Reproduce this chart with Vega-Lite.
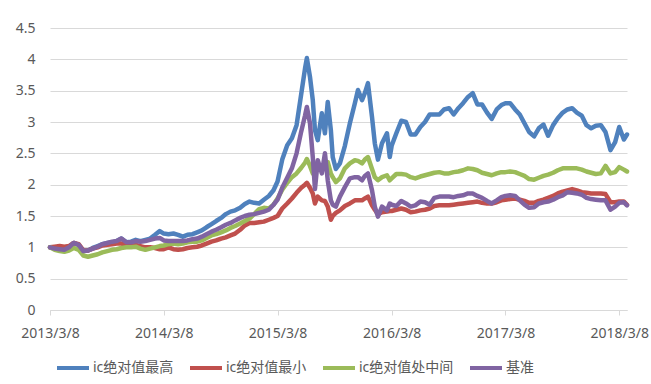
{
  "$schema": "https://vega.github.io/schema/vega-lite/v6.json",
  "width": 577,
  "height": 282,
  "autosize": {"type": "none"},
  "padding": {"left": 50, "top": 28, "right": 24, "bottom": 74},
  "background": "white",
  "config": {"view": {"stroke": null}, "font": "Noto Sans, Noto Sans CJK SC"},
  "data": {"values": [
    {"date":"2013-03-08","ic绝对值最高":1.00,"ic绝对值最小":1.00,"ic绝对值处中间":1.00,"基准":1.00},
    {"date":"2013-03-23","ic绝对值最高":0.99,"ic绝对值最小":1.01,"ic绝对值处中间":0.96,"基准":0.98},
    {"date":"2013-04-08","ic绝对值最高":0.98,"ic绝对值最小":1.02,"ic绝对值处中间":0.94,"基准":0.97},
    {"date":"2013-04-23","ic绝对值最高":0.96,"ic绝对值最小":1.01,"ic绝对值处中间":0.93,"基准":0.96},
    {"date":"2013-05-08","ic绝对值最高":1.00,"ic绝对值最小":1.02,"ic绝对值处中间":0.95,"基准":1.00},
    {"date":"2013-05-23","ic绝对值最高":1.07,"ic绝对值最小":1.07,"ic绝对值处中间":0.99,"基准":1.07},
    {"date":"2013-06-08","ic绝对值最高":1.04,"ic绝对值最小":1.05,"ic绝对值处中间":0.96,"基准":1.04},
    {"date":"2013-06-23","ic绝对值最高":0.94,"ic绝对值最小":0.95,"ic绝对值处中间":0.87,"基准":0.94},
    {"date":"2013-07-08","ic绝对值最高":0.95,"ic绝对值最小":0.95,"ic绝对值处中间":0.85,"基准":0.95},
    {"date":"2013-07-23","ic绝对值最高":0.99,"ic绝对值最小":0.98,"ic绝对值处中间":0.87,"基准":0.98},
    {"date":"2013-08-08","ic绝对值最高":1.02,"ic绝对值最小":1.00,"ic绝对值处中间":0.89,"基准":1.01},
    {"date":"2013-08-23","ic绝对值最高":1.05,"ic绝对值最小":1.03,"ic绝对值处中间":0.92,"基准":1.05},
    {"date":"2013-09-08","ic绝对值最高":1.07,"ic绝对值最小":1.04,"ic绝对值处中间":0.94,"基准":1.07},
    {"date":"2013-09-23","ic绝对值最高":1.08,"ic绝对值最小":1.05,"ic绝对值处中间":0.96,"基准":1.09},
    {"date":"2013-10-08","ic绝对值最高":1.10,"ic绝对值最小":1.06,"ic绝对值处中间":0.97,"基准":1.10},
    {"date":"2013-10-23","ic绝对值最高":1.14,"ic绝对值最小":1.06,"ic绝对值处中间":0.99,"基准":1.14},
    {"date":"2013-11-08","ic绝对值最高":1.08,"ic绝对值最小":1.04,"ic绝对值处中间":1.00,"基准":1.08},
    {"date":"2013-11-23","ic绝对值最高":1.09,"ic绝对值最小":1.04,"ic绝对值处中间":1.00,"基准":1.08},
    {"date":"2013-12-08","ic绝对值最高":1.12,"ic绝对值最小":1.04,"ic绝对值处中间":1.01,"基准":1.10},
    {"date":"2013-12-23","ic绝对值最高":1.10,"ic绝对值最小":1.02,"ic绝对值处中间":0.98,"基准":1.09},
    {"date":"2014-01-08","ic绝对值最高":1.12,"ic绝对值最小":1.00,"ic绝对值处中间":0.96,"基准":1.10},
    {"date":"2014-01-23","ic绝对值最高":1.14,"ic绝对值最小":1.00,"ic绝对值处中间":0.98,"基准":1.12},
    {"date":"2014-02-08","ic绝对值最高":1.20,"ic绝对值最小":0.99,"ic绝对值处中间":1.00,"基准":1.14},
    {"date":"2014-02-23","ic绝对值最高":1.26,"ic绝对值最小":0.97,"ic绝对值处中间":1.02,"基准":1.15},
    {"date":"2014-03-08","ic绝对值最高":1.22,"ic绝对值最小":0.97,"ic绝对值处中间":1.03,"基准":1.11},
    {"date":"2014-03-23","ic绝对值最高":1.21,"ic绝对值最小":1.00,"ic绝对值处中间":1.05,"基准":1.10},
    {"date":"2014-04-08","ic绝对值最高":1.22,"ic绝对值最小":0.97,"ic绝对值处中间":1.06,"基准":1.10},
    {"date":"2014-04-23","ic绝对值最高":1.20,"ic绝对值最小":0.96,"ic绝对值处中间":1.05,"基准":1.10},
    {"date":"2014-05-08","ic绝对值最高":1.17,"ic绝对值最小":0.97,"ic绝对值处中间":1.06,"基准":1.10},
    {"date":"2014-05-23","ic绝对值最高":1.20,"ic绝对值最小":0.99,"ic绝对值处中间":1.08,"基准":1.11},
    {"date":"2014-06-08","ic绝对值最高":1.21,"ic绝对值最小":1.00,"ic绝对值处中间":1.09,"基准":1.13},
    {"date":"2014-06-23","ic绝对值最高":1.24,"ic绝对值最小":1.01,"ic绝对值处中间":1.09,"基准":1.14},
    {"date":"2014-07-08","ic绝对值最高":1.27,"ic绝对值最小":1.03,"ic绝对值处中间":1.11,"基准":1.17},
    {"date":"2014-07-23","ic绝对值最高":1.32,"ic绝对值最小":1.06,"ic绝对值处中间":1.15,"基准":1.21},
    {"date":"2014-08-08","ic绝对值最高":1.37,"ic绝对值最小":1.09,"ic绝对值处中间":1.19,"基准":1.25},
    {"date":"2014-08-23","ic绝对值最高":1.42,"ic绝对值最小":1.11,"ic绝对值处中间":1.21,"基准":1.28},
    {"date":"2014-09-08","ic绝对值最高":1.47,"ic绝对值最小":1.14,"ic绝对值处中间":1.24,"基准":1.32},
    {"date":"2014-09-23","ic绝对值最高":1.53,"ic绝对值最小":1.16,"ic绝对值处中间":1.27,"基准":1.36},
    {"date":"2014-10-08","ic绝对值最高":1.57,"ic绝对值最小":1.19,"ic绝对值处中间":1.31,"基准":1.39},
    {"date":"2014-10-23","ic绝对值最高":1.59,"ic绝对值最小":1.22,"ic绝对值处中间":1.34,"基准":1.43},
    {"date":"2014-11-08","ic绝对值最高":1.63,"ic绝对值最小":1.28,"ic绝对值处中间":1.38,"基准":1.47},
    {"date":"2014-11-23","ic绝对值最高":1.69,"ic绝对值最小":1.35,"ic绝对值处中间":1.42,"基准":1.50},
    {"date":"2014-12-08","ic绝对值最高":1.73,"ic绝对值最小":1.39,"ic绝对值处中间":1.46,"基准":1.52},
    {"date":"2014-12-23","ic绝对值最高":1.71,"ic绝对值最小":1.39,"ic绝对值处中间":1.53,"基准":1.53},
    {"date":"2015-01-08","ic绝对值最高":1.70,"ic绝对值最小":1.40,"ic绝对值处中间":1.61,"基准":1.55},
    {"date":"2015-01-23","ic绝对值最高":1.76,"ic绝对值最小":1.41,"ic绝对值处中间":1.63,"基准":1.57},
    {"date":"2015-02-08","ic绝对值最高":1.82,"ic绝对值最小":1.44,"ic绝对值处中间":1.62,"基准":1.60},
    {"date":"2015-02-23","ic绝对值最高":1.91,"ic绝对值最小":1.47,"ic绝对值处中间":1.68,"基准":1.68},
    {"date":"2015-03-08","ic绝对值最高":2.05,"ic绝对值最小":1.50,"ic绝对值处中间":1.78,"基准":1.76},
    {"date":"2015-03-23","ic绝对值最高":2.40,"ic绝对值最小":1.62,"ic绝对值处中间":1.92,"基准":1.95},
    {"date":"2015-04-08","ic绝对值最高":2.63,"ic绝对值最小":1.70,"ic绝对值处中间":2.03,"基准":2.11},
    {"date":"2015-04-23","ic绝对值最高":2.74,"ic绝对值最小":1.78,"ic绝对值处中间":2.12,"基准":2.26},
    {"date":"2015-05-08","ic绝对值最高":2.95,"ic绝对值最小":1.87,"ic绝对值处中间":2.18,"基准":2.50},
    {"date":"2015-05-23","ic绝对值最高":3.45,"ic绝对值最小":1.95,"ic绝对值处中间":2.27,"基准":2.85},
    {"date":"2015-06-04","ic绝对值最高":3.85,"ic绝对值最小":2.00,"ic绝对值处中间":2.35,"基准":3.10},
    {"date":"2015-06-10","ic绝对值最高":4.02,"ic绝对值最小":2.03,"ic绝对值处中间":2.41,"基准":3.24},
    {"date":"2015-06-20","ic绝对值最高":3.72,"ic绝对值最小":1.95,"ic绝对值处中间":2.30,"基准":2.98},
    {"date":"2015-06-29","ic绝对值最高":3.35,"ic绝对值最小":1.86,"ic绝对值处中间":2.18,"基准":2.44},
    {"date":"2015-07-06","ic绝对值最高":2.87,"ic绝对值最小":1.70,"ic绝对值处中间":2.20,"基准":1.93},
    {"date":"2015-07-15","ic绝对值最高":2.71,"ic绝对值最小":1.81,"ic绝对值处中间":2.28,"基准":2.39},
    {"date":"2015-07-28","ic绝对值最高":3.14,"ic绝对值最小":1.75,"ic绝对值处中间":2.23,"基准":2.18},
    {"date":"2015-08-07","ic绝对值最高":2.82,"ic绝对值最小":1.74,"ic绝对值处中间":2.30,"基准":2.50},
    {"date":"2015-08-16","ic绝对值最高":3.32,"ic绝对值最小":1.65,"ic绝对值处中间":2.36,"基准":2.07},
    {"date":"2015-08-26","ic绝对值最高":2.87,"ic绝对值最小":1.44,"ic绝对值处中间":2.18,"基准":1.75},
    {"date":"2015-09-01","ic绝对值最高":2.44,"ic绝对值最小":1.50,"ic绝对值处中间":2.12,"基准":1.68},
    {"date":"2015-09-11","ic绝对值最高":2.25,"ic绝对值最小":1.55,"ic绝对值处中间":2.04,"基准":1.65},
    {"date":"2015-09-24","ic绝对值最高":2.34,"ic绝对值最小":1.59,"ic绝对值处中间":2.10,"基准":1.81},
    {"date":"2015-10-10","ic绝对值最高":2.62,"ic绝对值最小":1.66,"ic绝对值处中间":2.26,"基准":1.96},
    {"date":"2015-10-26","ic绝对值最高":2.98,"ic绝对值最小":1.70,"ic绝对值处中间":2.34,"基准":2.10},
    {"date":"2015-11-11","ic绝对值最高":3.30,"ic绝对值最小":1.75,"ic绝对值处中间":2.39,"基准":2.12},
    {"date":"2015-11-21","ic绝对值最高":3.51,"ic绝对值最小":1.75,"ic绝对值处中间":2.38,"基准":2.12},
    {"date":"2015-12-04","ic绝对值最高":3.35,"ic绝对值最小":1.75,"ic绝对值处中间":2.34,"基准":2.07},
    {"date":"2015-12-13","ic绝对值最高":3.46,"ic绝对值最小":1.78,"ic绝对值处中间":2.40,"基准":2.14},
    {"date":"2015-12-23","ic绝对值最高":3.62,"ic绝对值最小":1.81,"ic绝对值处中间":2.44,"基准":2.18},
    {"date":"2016-01-05","ic绝对值最高":3.08,"ic绝对值最小":1.67,"ic绝对值处中间":2.25,"基准":1.91},
    {"date":"2016-01-14","ic绝对值最高":2.66,"ic绝对值最小":1.60,"ic绝对值处中间":2.12,"基准":1.65},
    {"date":"2016-01-24","ic绝对值最高":2.40,"ic绝对值最小":1.53,"ic绝对值处中间":2.07,"基准":1.49},
    {"date":"2016-02-06","ic绝对值最高":2.66,"ic绝对值最小":1.56,"ic绝对值处中间":2.12,"基准":1.65},
    {"date":"2016-02-22","ic绝对值最高":2.82,"ic绝对值最小":1.57,"ic绝对值处中间":2.15,"基准":1.59},
    {"date":"2016-03-02","ic绝对值最高":2.44,"ic绝对值最小":1.58,"ic绝对值处中间":2.07,"基准":1.70},
    {"date":"2016-03-08","ic绝对值最高":2.62,"ic绝对值最小":1.58,"ic绝对值处中间":2.10,"基准":1.68},
    {"date":"2016-03-23","ic绝对值最高":2.82,"ic绝对值最小":1.60,"ic绝对值处中间":2.17,"基准":1.66},
    {"date":"2016-04-08","ic绝对值最高":3.02,"ic绝对值最小":1.62,"ic绝对值处中间":2.17,"基准":1.74},
    {"date":"2016-04-23","ic绝对值最高":3.00,"ic绝对值最小":1.60,"ic绝对值处中间":2.16,"基准":1.70},
    {"date":"2016-05-08","ic绝对值最高":2.80,"ic绝对值最小":1.56,"ic绝对值处中间":2.12,"基准":1.65},
    {"date":"2016-05-23","ic绝对值最高":2.80,"ic绝对值最小":1.57,"ic绝对值处中间":2.10,"基准":1.67},
    {"date":"2016-06-08","ic绝对值最高":2.92,"ic绝对值最小":1.59,"ic绝对值处中间":2.13,"基准":1.73},
    {"date":"2016-06-23","ic绝对值最高":3.00,"ic绝对值最小":1.60,"ic绝对值处中间":2.15,"基准":1.72},
    {"date":"2016-07-08","ic绝对值最高":3.12,"ic绝对值最小":1.62,"ic绝对值处中间":2.17,"基准":1.68},
    {"date":"2016-07-23","ic绝对值最高":3.12,"ic绝对值最小":1.66,"ic绝对值处中间":2.19,"基准":1.79},
    {"date":"2016-08-08","ic绝对值最高":3.12,"ic绝对值最小":1.67,"ic绝对值处中间":2.20,"基准":1.81},
    {"date":"2016-08-23","ic绝对值最高":3.20,"ic绝对值最小":1.67,"ic绝对值处中间":2.18,"基准":1.81},
    {"date":"2016-09-08","ic绝对值最高":3.22,"ic绝对值最小":1.67,"ic绝对值处中间":2.18,"基准":1.81},
    {"date":"2016-09-23","ic绝对值最高":3.12,"ic绝对值最小":1.68,"ic绝对值处中间":2.20,"基准":1.80},
    {"date":"2016-10-08","ic绝对值最高":3.22,"ic绝对值最小":1.69,"ic绝对值处中间":2.21,"基准":1.82},
    {"date":"2016-10-23","ic绝对值最高":3.30,"ic绝对值最小":1.70,"ic绝对值处中间":2.23,"基准":1.83},
    {"date":"2016-11-08","ic绝对值最高":3.40,"ic绝对值最小":1.71,"ic绝对值处中间":2.26,"基准":1.86},
    {"date":"2016-11-23","ic绝对值最高":3.46,"ic绝对值最小":1.72,"ic绝对值处中间":2.25,"基准":1.86},
    {"date":"2016-12-08","ic绝对值最高":3.28,"ic绝对值最小":1.73,"ic绝对值处中间":2.23,"基准":1.82},
    {"date":"2016-12-23","ic绝对值最高":3.28,"ic绝对值最小":1.71,"ic绝对值处中间":2.19,"基准":1.79},
    {"date":"2017-01-08","ic绝对值最高":3.15,"ic绝对值最小":1.70,"ic绝对值处中间":2.17,"基准":1.74},
    {"date":"2017-01-23","ic绝对值最高":3.05,"ic绝对值最小":1.70,"ic绝对值处中间":2.15,"基准":1.70},
    {"date":"2017-02-08","ic绝对值最高":3.20,"ic绝对值最小":1.72,"ic绝对值处中间":2.18,"基准":1.75},
    {"date":"2017-02-23","ic绝对值最高":3.27,"ic绝对值最小":1.75,"ic绝对值处中间":2.20,"基准":1.80},
    {"date":"2017-03-08","ic绝对值最高":3.30,"ic绝对值最小":1.76,"ic绝对值处中间":2.20,"基准":1.82},
    {"date":"2017-03-23","ic绝对值最高":3.30,"ic绝对值最小":1.77,"ic绝对值处中间":2.21,"基准":1.83},
    {"date":"2017-04-08","ic绝对值最高":3.20,"ic绝对值最小":1.78,"ic绝对值处中间":2.20,"基准":1.82},
    {"date":"2017-04-23","ic绝对值最高":3.12,"ic绝对值最小":1.76,"ic绝对值处中间":2.17,"基准":1.75},
    {"date":"2017-05-08","ic绝对值最高":2.98,"ic绝对值最小":1.74,"ic绝对值处中间":2.14,"基准":1.68},
    {"date":"2017-05-23","ic绝对值最高":2.84,"ic绝对值最小":1.71,"ic绝对值处中间":2.09,"基准":1.63},
    {"date":"2017-06-08","ic绝对值最高":2.77,"ic绝对值最小":1.71,"ic绝对值处中间":2.08,"基准":1.64},
    {"date":"2017-06-23","ic绝对值最高":2.90,"ic绝对值最小":1.74,"ic绝对值处中间":2.11,"基准":1.70},
    {"date":"2017-07-08","ic绝对值最高":2.96,"ic绝对值最小":1.76,"ic绝对值处中间":2.14,"基准":1.72},
    {"date":"2017-07-23","ic绝对值最高":2.78,"ic绝对值最小":1.79,"ic绝对值处中间":2.16,"基准":1.73},
    {"date":"2017-08-08","ic绝对值最高":2.95,"ic绝对值最小":1.82,"ic绝对值处中间":2.19,"基准":1.76},
    {"date":"2017-08-23","ic绝对值最高":3.06,"ic绝对值最小":1.86,"ic绝对值处中间":2.23,"基准":1.80},
    {"date":"2017-09-08","ic绝对值最高":3.15,"ic绝对值最小":1.89,"ic绝对值处中间":2.26,"基准":1.83},
    {"date":"2017-09-23","ic绝对值最高":3.20,"ic绝对值最小":1.91,"ic绝对值处中间":2.26,"基准":1.88},
    {"date":"2017-10-08","ic绝对值最高":3.22,"ic绝对值最小":1.93,"ic绝对值处中间":2.26,"基准":1.87},
    {"date":"2017-10-23","ic绝对值最高":3.15,"ic绝对值最小":1.91,"ic绝对值处中间":2.26,"基准":1.86},
    {"date":"2017-11-08","ic绝对值最高":3.10,"ic绝对值最小":1.88,"ic绝对值处中间":2.24,"基准":1.84},
    {"date":"2017-11-23","ic绝对值最高":2.95,"ic绝对值最小":1.87,"ic绝对值处中间":2.21,"基准":1.79},
    {"date":"2017-12-08","ic绝对值最高":2.90,"ic绝对值最小":1.86,"ic绝对值处中间":2.19,"基准":1.77},
    {"date":"2017-12-23","ic绝对值最高":2.94,"ic绝对值最小":1.86,"ic绝对值处中间":2.17,"基准":1.76},
    {"date":"2018-01-08","ic绝对值最高":2.95,"ic绝对值最小":1.86,"ic绝对值处中间":2.18,"基准":1.75},
    {"date":"2018-01-23","ic绝对值最高":2.84,"ic绝对值最小":1.85,"ic绝对值处中间":2.30,"基准":1.75},
    {"date":"2018-02-08","ic绝对值最高":2.55,"ic绝对值最小":1.72,"ic绝对值处中间":2.18,"基准":1.60},
    {"date":"2018-02-23","ic绝对值最高":2.68,"ic绝对值最小":1.72,"ic绝对值处中间":2.20,"基准":1.65},
    {"date":"2018-03-08","ic绝对值最高":2.92,"ic绝对值最小":1.73,"ic绝对值处中间":2.28,"基准":1.71},
    {"date":"2018-03-23","ic绝对值最高":2.72,"ic绝对值最小":1.73,"ic绝对值处中间":2.24,"基准":1.72},
    {"date":"2018-04-02","ic绝对值最高":2.80,"ic绝对值最小":1.68,"ic绝对值处中间":2.21,"基准":1.67}
  ]},
  "transform": [
    {"fold": ["ic绝对值最高", "ic绝对值最小", "ic绝对值处中间", "基准"], "as": ["series", "value"]}
  ],
  "mark": {"type": "line", "strokeWidth": 4.5, "strokeJoin": "round", "strokeCap": "round"},
  "encoding": {
    "x": {
      "field": "date",
      "type": "temporal",
      "scale": {"domain": [{"year": 2013, "month": 3, "date": 8}, {"year": 2018, "month": 4, "date": 2}], "nice": false},
      "axis": {
        "values": [
          {"year": 2013, "month": 3, "date": 8},
          {"year": 2014, "month": 3, "date": 8},
          {"year": 2015, "month": 3, "date": 8},
          {"year": 2016, "month": 3, "date": 8},
          {"year": 2017, "month": 3, "date": 8},
          {"year": 2018, "month": 3, "date": 8}
        ],
        "format": "%Y/%-m/%-d",
        "title": null,
        "grid": false,
        "domainColor": "#d9d9d9",
        "tickColor": "#d9d9d9",
        "tickSize": 5,
        "labelFontSize": 14,
        "labelColor": "#595959",
        "labelPadding": 11,
        "labelFlush": false,
        "labelOverlap": false
      }
    },
    "y": {
      "field": "value",
      "type": "quantitative",
      "scale": {"domain": [0, 4.5], "nice": false},
      "axis": {
        "values": [0, 0.5, 1, 1.5, 2, 2.5, 3, 3.5, 4, 4.5],
        "format": "~g",
        "title": null,
        "domain": false,
        "ticks": false,
        "gridColor": "#d9d9d9",
        "labelFontSize": 14,
        "labelColor": "#595959",
        "labelPadding": 15
      }
    },
    "color": {
      "field": "series",
      "type": "nominal",
      "scale": {
        "domain": ["ic绝对值最高", "ic绝对值最小", "ic绝对值处中间", "基准"],
        "range": ["#4F81BD", "#C0504D", "#9BBB59", "#8064A2"]
      },
      "legend": {
        "title": null,
        "orient": "none",
        "legendX": 5,
        "legendY": 322,
        "direction": "horizontal",
        "columns": 4,
        "symbolType": "stroke",
        "symbolSize": 1024,
        "symbolStrokeWidth": 4,
        "labelFontSize": 14,
        "labelColor": "#595959",
        "labelOffset": 2,
        "columnPadding": 8,
        "padding": 0
      }
    }
  }
}
